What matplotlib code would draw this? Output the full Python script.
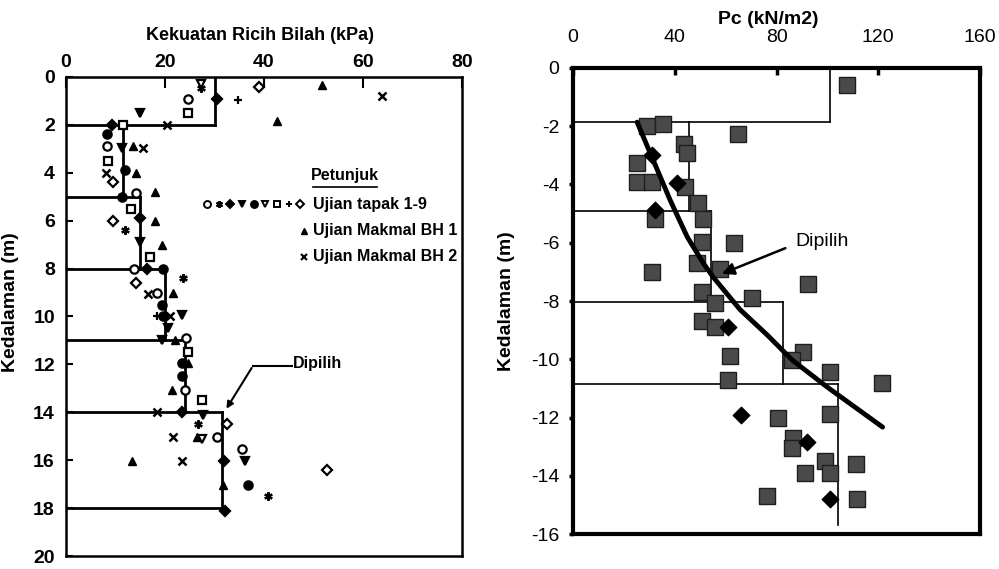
import matplotlib
matplotlib.use("Agg")
import matplotlib.pyplot as plt

plt.rcParams["axes.unicode_minus"] = False
NARROW = ["Liberation Sans", "DejaVu Sans"]
ARIAL = ["Liberation Sans", "DejaVu Sans"]

# ---- left panel: vane shear strength (kPa) vs depth (m)
L_TOP = [0, 2, 5, 8, 11, 14]
L_BOT = [2, 5, 8, 11, 14, 18]
L_SEL = [30, 11.5, 15, 20, 24, 31.5]

# site tests 1-9
T1_X = [24.7, 8.2, 14.1, 13.8, 18.4, 24.2, 24.0, 30.4, 35.5]
T1_Z = [0.92, 2.9, 4.85, 8.0, 9.0, 10.9, 13.05, 15.05, 15.55]
T2_X = [27.3, 11.9, 23.6, 26.6, 40.8]
T2_Z = [0.46, 6.4, 8.4, 14.5, 17.5]
T3_X = [30.4, 9.3, 15.0, 16.3, 23.4, 31.9, 32.1]
T3_Z = [0.92, 2.0, 5.9, 8.0, 14.0, 16.05, 18.1]
T4_X = [15.0, 11.3, 15.0, 23.4, 20.6, 19.4, 27.7, 36.2]
T4_Z = [1.5, 2.95, 6.9, 9.95, 10.5, 11.0, 14.1, 16.05]
T5_X = [8.2, 11.9, 11.3, 19.6, 19.4, 19.6, 23.4, 23.4, 36.8]
T5_Z = [2.4, 3.9, 5.0, 8.0, 9.5, 10.0, 11.95, 12.5, 17.05]
T6_X = [27.3, 27.4]
T6_Z = [0.3, 15.1]
T7_X = [24.7, 11.6, 8.5, 13.1, 17.0, 24.6, 27.4]
T7_Z = [1.5, 2.0, 3.5, 5.5, 7.5, 11.5, 13.5]
T8_X = [34.8, 18.4]
T8_Z = [0.95, 10.0]
T9_X = [38.9, 9.5, 9.5, 14.1, 32.5, 52.7]
T9_Z = [0.42, 4.4, 6.0, 8.6, 14.5, 16.4]
BH1_X = [51.7, 42.6, 13.6, 14.1, 18.0, 18.0, 19.4, 21.7, 22.0, 24.7, 21.4, 26.5, 13.4, 31.7]
BH1_Z = [0.33, 1.85, 2.9, 4.0, 4.8, 6.0, 7.0, 9.0, 11.0, 11.95, 13.05, 15.05, 16.05, 17.05]
BH2_X = [63.8, 20.3, 15.6, 8.1, 16.6, 21.0, 18.4, 21.7, 23.5]
BH2_Z = [0.79, 2.0, 2.95, 4.0, 9.05, 10.0, 14.0, 15.05, 16.05]

# ---- right panel: Pc (kN/m2) vs depth (m)
R_TOP = [0, -1.85, -4.9, -8.05, -10.85]
R_BOT = [-1.85, -4.9, -8.05, -10.85, -15.7]
R_SEL = [101, 45.5, 54.3, 82.7, 104]

SQ_X = [107.9, 29.0, 35.4, 65.0, 43.7, 44.9, 25.2, 25.2, 31.1, 44.1, 49.2, 32.3,
        51.2, 50.8, 63.4, 48.8, 31.1, 57.9, 92.5, 50.8, 70.5, 55.9, 50.8, 55.9,
        61.8, 90.6, 86.2, 101.2, 61.0, 121.6, 80.7, 101.2, 86.6, 86.2, 99.2,
        111.4, 91.3, 101.2, 76.4, 111.8]
SQ_Z = [-0.58, -2.0, -1.93, -2.25, -2.6, -2.93, -3.27, -3.9, -3.9, -4.08, -4.65, -5.2,
        -5.2, -5.98, -6.0, -6.7, -7.0, -6.9, -7.4, -7.7, -7.9, -8.08, -8.7, -8.9,
        -9.9, -9.76, -10.03, -10.45, -10.72, -10.8, -12.0, -11.87, -12.7, -13.05, -13.5,
        -13.6, -13.9, -13.9, -14.7, -14.8]
DM_X = [31.1, 40.9, 32.3, 61.0, 66.1, 92.1, 101.2]
DM_Z = [-3.0, -3.96, -4.88, -8.9, -11.9, -12.85, -14.8]

CURVE_PC = [25.2, 31.5, 38.2, 44.9, 51.2, 55.1, 65.7, 76.4, 86.2, 100.0, 121.7]
CURVE_Z = [-1.86, -3.16, -4.54, -5.8, -6.7, -7.18, -8.3, -9.17, -10.03, -10.96, -12.33]


def step_profile(ax, top, bot, sel, lw, close_bottom):
    for t, b, v in zip(top, bot, sel):
        ax.plot([v, v], [t, b], color="black", lw=lw, zorder=2)
    for i in range(1, len(top)):
        ax.plot([0, max(sel[i - 1], sel[i])], [top[i], top[i]], color="black", lw=lw, zorder=2)
    if close_bottom:
        ax.plot([0, sel[-1]], [bot[-1], bot[-1]], color="black", lw=lw, zorder=2)


fig = plt.figure(figsize=(9.99, 5.69), dpi=100)
fig.patch.set_facecolor("white")

# ------------------------------------------------ left
ax = fig.add_axes([0.0661, 0.0228, 0.3964, 0.842])
ax.set_xlim(0, 80); ax.set_ylim(20, 0)
step_profile(ax, L_TOP, L_BOT, L_SEL, 2.0, True)

series = [
    (T1_X, T1_Z, "o", False), (T2_X, T2_Z, (6, 2, 0), True), (T3_X, T3_Z, "D", True),
    (T4_X, T4_Z, "v", True), (T5_X, T5_Z, "o", True), (T6_X, T6_Z, "v", False),
    (T7_X, T7_Z, "s", False), (T8_X, T8_Z, "+", True), (T9_X, T9_Z, "D", False),
]
for xs, zs, m, filled in series:
    ax.plot(xs, zs, ls="none", marker=m, ms=6 if m != "D" else 5,
            mfc="black" if filled else "white", mec="black", mew=1.6, zorder=3)
ax.plot(BH1_X, BH1_Z, ls="none", marker="^", ms=6, mfc="black", mec="black", zorder=3)
ax.plot(BH2_X, BH2_Z, ls="none", marker="x", ms=6, mec="black", mew=1.8, zorder=3)

# legend (Petunjuk)
ax.text(56.4, 4.1, "Petunjuk", ha="center", va="center", fontsize=11.5,
        fontweight="bold", family=NARROW)
ax.plot([49.9, 62.9], [4.6, 4.6], color="black", lw=1.2)
lx = 28.5
for xs, zs, m, filled in series:
    ax.plot([lx], [5.31], ls="none", marker=m, ms=5 if m != "D" else 4,
            mfc="black" if filled else "white", mec="black", mew=1.4, clip_on=False)
    lx += 2.35
ax.plot([48.0], [6.43], ls="none", marker="^", ms=5, color="black")
ax.plot([48.0], [7.51], ls="none", marker="x", ms=5, mec="black", mew=1.5)
for yy, txt in [(5.31, "Ujian tapak 1-9"), (6.43, "Ujian Makmal BH 1"), (7.51, "Ujian Makmal BH 2")]:
    ax.text(49.8, yy, txt, ha="left", va="center", fontsize=11.5, fontweight="bold", family=NARROW)

# Dipilih
ax.text(45.8, 11.95, "Dipilih", ha="left", va="center", fontsize=11.5,
        fontweight="bold", family=NARROW)
ax.plot([37.8, 45.6], [12.05, 12.05], color="black", lw=1.5)
ax.annotate("", xy=(32.1, 13.95), xytext=(37.8, 12.05),
            arrowprops=dict(arrowstyle="-|>", color="black", lw=1.5, mutation_scale=10))

ax.xaxis.tick_top()
ax.set_xticks([0, 20, 40, 60, 80])
ax.set_yticks(range(0, 21, 2))
ax.tick_params(axis="x", direction="in", length=8, width=1.5, pad=4, labelsize=14)
ax.tick_params(axis="y", direction="in", length=5, width=1.5, pad=8, labelsize=14)
for lab in ax.get_xticklabels() + ax.get_yticklabels():
    lab.set_family(NARROW); lab.set_fontweight("bold")
ax.set_ylabel("Kedalaman (m)", fontsize=14, fontweight="bold", family=NARROW)
ax.yaxis.set_label_coords(-0.118, 0.53)
for sp in ax.spines.values():
    sp.set_linewidth(1.8)
fig.text(260 / 999, 1 - 35 / 569, "Kekuatan Ricih Bilah (kPa)", ha="center", va="center",
         fontsize=13, fontweight="bold", family=NARROW)

# ------------------------------------------------ right
ax2 = fig.add_axes([0.5736, 0.0615, 0.4074, 0.819])
ax2.set_xlim(0, 160); ax2.set_ylim(-16, 0)
step_profile(ax2, R_TOP, R_BOT, R_SEL, 1.2, False)
ax2.scatter(SQ_X, SQ_Z, marker="s", s=120, color="#4a4a4a", edgecolors="#1e1e1e",
            linewidths=1.0, zorder=3)
ax2.scatter(DM_X, DM_Z, marker="D", s=70, color="black", zorder=4)
ax2.plot(CURVE_PC, CURVE_Z, color="black", lw=3.5, solid_capstyle="round", zorder=5)
ax2.text(87.5, -5.95, "Dipilih", ha="left", va="center", fontsize=14, family=ARIAL)
ax2.annotate("", xy=(57.5, -7.1), xytext=(84.5, -6.15),
             arrowprops=dict(arrowstyle="-|>", color="black", lw=1.8, mutation_scale=18))

ax2.xaxis.tick_top()
ax2.set_xticks([0, 40, 80, 120, 160])
ax2.set_yticks(range(-16, 1, 2))
ax2.tick_params(axis="x", direction="in", length=5, width=2.5, pad=16, labelsize=14)
ax2.tick_params(axis="y", direction="out", length=3, width=2.5, pad=7, labelsize=14)
for lab in ax2.get_xticklabels() + ax2.get_yticklabels():
    lab.set_family(ARIAL)
ax2.set_ylabel("Kedalaman (m)", fontsize=14, fontweight="bold", family=ARIAL)
ax2.yaxis.set_label_coords(-0.143, 0.5)
for sp in ax2.spines.values():
    sp.set_linewidth(3.0)
fig.text(768 / 999, 1 - 20 / 569, "Pc (kN/m2)", ha="center", va="center",
         fontsize=14, fontweight="bold", family=ARIAL)

fig.savefig("out.png", dpi=100, facecolor="white")
